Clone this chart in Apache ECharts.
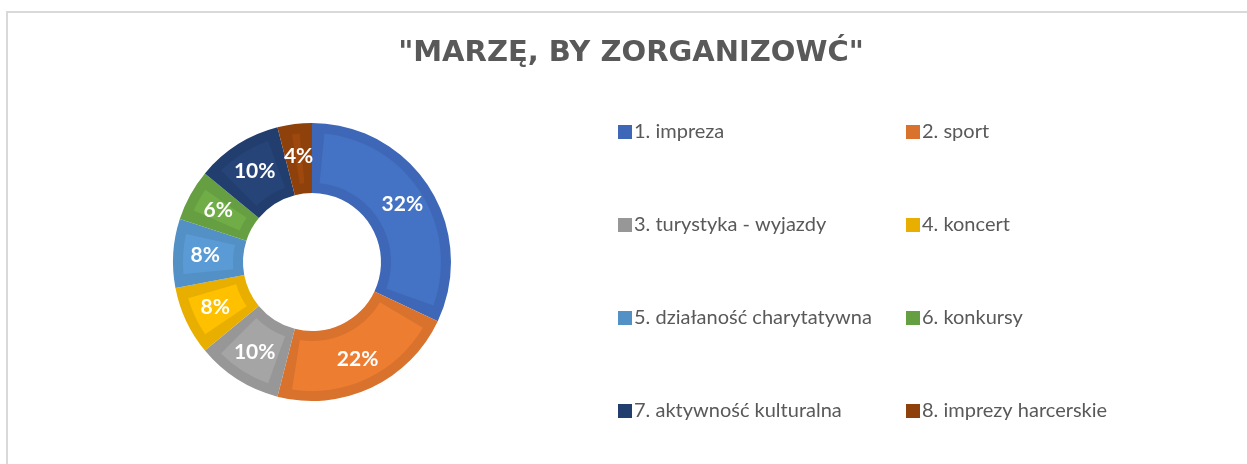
<!DOCTYPE html>
<html>
<head>
<meta charset="utf-8">
<script src="https://cdn.jsdelivr.net/npm/echarts@6/dist/echarts.min.js"></script>
<style>
  html, body { margin: 0; padding: 0; background: #fff; }
  #chart { width: 1247px; height: 464px; }
</style>
</head>
<body>
<div id="chart"></div>
<script>
const categories = [
  "1. impreza",
  "2. sport",
  "3. turystyka - wyjazdy",
  "4. koncert",
  "5. działaność charytatywna",
  "6. konkursy",
  "7. aktywność kulturalna",
  "8. imprezy harcerskie"
];
const shares = [32, 22, 10, 8, 8, 6, 10, 4];

// inner fill and the darker rim colour of each slice
const fillColors = ["#4472c4", "#ed7d31", "#a5a5a5", "#ffc000", "#5b9bd5", "#70ad47", "#264478", "#9e480e"];
const rimColors = ["#3e68b7", "#d8722d", "#979797", "#e8af00", "#5390c6", "#669f41", "#223e6f", "#8f410c"];

const font = "Lato";
const center = [312, 262];

const chart = echarts.init(document.getElementById("chart"));

const legendText = { fontFamily: font, fontSize: 20, color: "#595959", lineHeight: 22, padding: [0, 0, 0, -3] };

chart.setOption({
  animation: false,
  title: {
    text: '"MARZĘ, BY ZORGANIZOWĆ"',
    left: 626,
    textAlign: "center",
    top: 34,
    textStyle: { fontFamily: "DejaVu Sans", fontSize: 29, fontWeight: "bold", color: "#595959" }
  },
  graphic: [
    {
      type: "rect",
      shape: { x: 7, y: 12, width: 1300, height: 500 },
      style: { fill: null, stroke: "#d9d9d9", lineWidth: 2 },
      silent: true
    }
  ],
  legend: [
    {
      data: [categories[0], categories[2], categories[4], categories[6]],
      orient: "vertical",
      left: 613,
      top: 116,
      itemWidth: 14,
      itemHeight: 14,
      itemGap: 71,
      icon: "rect",
      textStyle: legendText
    },
    {
      data: [categories[1], categories[3], categories[5], categories[7]],
      orient: "vertical",
      left: 901,
      top: 116,
      itemWidth: 14,
      itemHeight: 14,
      itemGap: 71,
      icon: "rect",
      textStyle: legendText
    }
  ],
  series: [
    {
      name: "rim",
      type: "pie",
      center: center,
      radius: [69, 139],
      startAngle: 90,
      clockwise: true,
      silent: true,
      label: { show: false },
      labelLine: { show: false },
      itemStyle: { borderWidth: 0 },
      data: categories.map((c, i) => ({ name: c, value: shares[i], itemStyle: { color: rimColors[i] } }))
    },
    {
      name: "fill",
      type: "pie",
      center: center,
      radius: [79, 129],
      startAngle: 90,
      clockwise: true,
      padAngle: 11,
      silent: true,
      legendHoverLink: false,
      label: {
        show: true,
        position: "inside",
        formatter: "{c}%",
        fontFamily: font,
        fontSize: 21,
        fontWeight: "bold",
        color: "#ffffff"
      },
      labelLine: { show: false },
      data: categories.map((c, i) => ({ name: c, value: shares[i], itemStyle: { color: fillColors[i] } }))
    }
  ]
});
</script>
</body>
</html>
